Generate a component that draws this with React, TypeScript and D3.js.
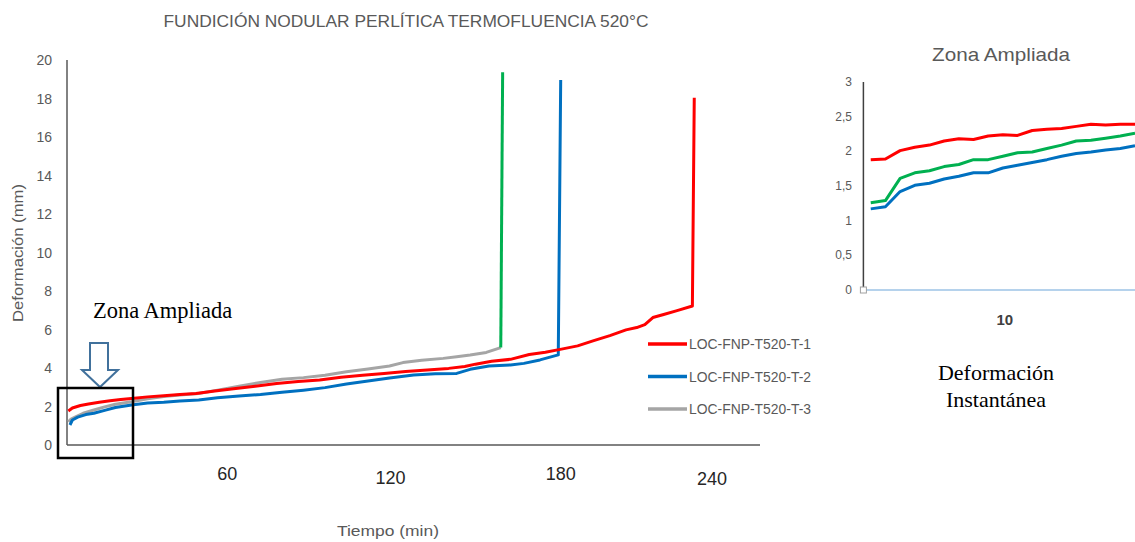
import React from "react";
import * as d3 from "d3";

// ---- Main chart data (time in min, deformation in mm) ----
const t1 = [0.5, 2, 5, 8, 12, 16, 20, 24, 30, 36, 42, 48, 55, 62, 70, 78, 86, 94, 102, 110, 118, 126, 134, 142, 148, 152, 158, 165, 172, 178, 184, 190, 196, 202, 208, 212, 215, 218, 222, 227, 232.7, 233.4];
const v1 = [1.77, 1.92, 2.05, 2.13, 2.22, 2.3, 2.36, 2.42, 2.5, 2.56, 2.62, 2.68, 2.8, 2.92, 3.05, 3.2, 3.3, 3.38, 3.52, 3.62, 3.72, 3.82, 3.9, 3.98, 4.08, 4.2, 4.35, 4.45, 4.7, 4.82, 4.98, 5.15, 5.42, 5.68, 5.98, 6.1, 6.25, 6.62, 6.78, 6.98, 7.22, 18.04];

const t2 = [1.1, 2, 4, 7, 10, 14, 18, 24, 30, 36, 42, 49, 56, 64, 72, 80, 88, 96, 104, 112, 120, 129, 137, 145, 150, 157, 165, 170, 176, 182.8, 183.7];
const v2 = [1.04, 1.3, 1.45, 1.58, 1.65, 1.8, 1.95, 2.08, 2.18, 2.22, 2.28, 2.34, 2.45, 2.55, 2.62, 2.74, 2.85, 2.98, 3.17, 3.32, 3.48, 3.64, 3.7, 3.72, 3.93, 4.1, 4.16, 4.24, 4.42, 4.68, 18.96];

const t3 = [0.5, 1.5, 3, 6, 10, 14, 18, 24, 30, 36, 42, 49, 56, 64, 72, 80, 88, 96, 104, 112, 120, 125, 132, 140, 145, 150, 156, 161.4];
const v3 = [1.21, 1.35, 1.45, 1.65, 1.82, 1.98, 2.12, 2.25, 2.4, 2.52, 2.6, 2.68, 2.85, 3.05, 3.25, 3.42, 3.5, 3.62, 3.81, 3.95, 4.1, 4.28, 4.4, 4.5, 4.59, 4.68, 4.81, 5.06];
const t3Rupture = [161.4, 162.1];
const v3Rupture = [5.06, 19.36];

const seriesNames = ["LOC-FNP-T520-T-1", "LOC-FNP-T520-T-2", "LOC-FNP-T520-T-3"];
const yTicks = [0, 2, 4, 6, 8, 10, 12, 14, 16, 18, 20];
const xTicks = [60, 120, 180, 240];

// ---- Inset (Zona Ampliada) data ----
const insetCats = [1, 2, 3, 4, 5, 6, 7, 8, 9, 10, 11, 12, 13, 14, 15, 16, 17, 18, 19];
const insetRed = [1.88, 1.89, 2.01, 2.06, 2.09, 2.15, 2.18, 2.17, 2.22, 2.24, 2.23, 2.3, 2.32, 2.33, 2.36, 2.39, 2.38, 2.39, 2.39];
const insetGreen = [1.26, 1.29, 1.61, 1.69, 1.72, 1.78, 1.81, 1.88, 1.88, 1.93, 1.98, 1.99, 2.04, 2.09, 2.15, 2.16, 2.19, 2.22, 2.26];
const insetBlue = [1.17, 1.2, 1.42, 1.51, 1.54, 1.6, 1.64, 1.69, 1.69, 1.76, 1.8, 1.84, 1.88, 1.93, 1.97, 1.99, 2.02, 2.04, 2.08];
const insetYTicks = [0, 0.5, 1, 1.5, 2, 2.5, 3];
const insetXTicks = [10];

const RED = "#FF0000";
const BLUE = "#0070C0";
const GRAY = "#A5A5A5";
const GREEN = "#00B050";
const SANS = "'Liberation Sans', Arial, sans-serif";
const SERIF = "'Liberation Serif', 'Times New Roman', serif";

export default function App() {
  // main scales
  const x = d3.scaleLinear().domain([0, 240]).range([67, 712]);
  const y = d3.scaleLinear().domain([0, 20]).range([445, 60]);
  const line = d3
    .line<[number, number]>()
    .x((d) => x(d[0]))
    .y((d) => y(d[1]));
  const zip = (a: number[], b: number[]) => a.map((v, i) => [v, b[i]] as [number, number]);

  // inset scales
  const xi = d3.scaleLinear().domain([0.5, 19]).range([863.4, 1135]);
  const yi = d3.scaleLinear().domain([0, 3]).range([290, 82]);
  const lineI = d3
    .line<number>()
    .x((_, i) => xi(insetCats[i]))
    .y((d) => yi(d));

  const fmt = (v: number) => String(v).replace(".", ",");

  return (
    <svg
      width={1135}
      height={542}
      style={{ position: "absolute", left: 0, top: 0, background: "#fff" }}
    >
      <rect x={0} y={0} width={1135} height={542} fill="#fff" />
      {/* Title */}
      <text x={406} y={27} textAnchor="middle" fontFamily={SANS} fontSize={16} fill="#595959" textLength={485} lengthAdjust="spacingAndGlyphs">
        FUNDICIÓN NODULAR PERLÍTICA TERMOFLUENCIA 520°C
      </text>

      {/* Axes */}
      <line x1={67} y1={60} x2={67} y2={445} stroke="#595959" strokeWidth={1.5} />
      <line x1={67} y1={445} x2={760} y2={445} stroke="#595959" strokeWidth={1.5} />
      {yTicks.map((t) => (
        <text key={t} x={52} y={y(t) + 5} textAnchor="end" fontFamily={SANS} fontSize={14} fill="#595959">
          {t}
        </text>
      ))}
      {xTicks.map((t, i) => (
        <text key={t} x={x(t) + [-1, 1, 10, 0][i]} y={[480, 484, 480, 485][i]} textAnchor="middle" fontFamily={SANS} fontSize={18} fill="#262626">
          {t}
        </text>
      ))}
      <text x={388} y={536} textAnchor="middle" fontFamily={SANS} fontSize={15} fill="#595959" textLength={102} lengthAdjust="spacingAndGlyphs">
        Tiempo (min)
      </text>
      <text transform="translate(23,253) rotate(-90)" textAnchor="middle" fontFamily={SANS} fontSize={15} fill="#595959" textLength={138} lengthAdjust="spacingAndGlyphs">
        Deformación (mm)
      </text>

      {/* Series */}
      <path d={line(zip(t3, v3)) || ""} fill="none" stroke={GRAY} strokeWidth={3} strokeLinejoin="round" />
      <path d={line(zip(t3Rupture, v3Rupture)) || ""} fill="none" stroke={GREEN} strokeWidth={3} />
      <path d={line(zip(t2, v2)) || ""} fill="none" stroke={BLUE} strokeWidth={3} strokeLinejoin="round" />
      <path d={line(zip(t1, v1)) || ""} fill="none" stroke={RED} strokeWidth={3} strokeLinejoin="round" />

      {/* Legend */}
      {[RED, BLUE, GRAY].map((c, i) => (
        <g key={i} transform={`translate(648,${344 + i * 32.5})`}>
          <line x1={0} x2={39} y1={0} y2={0} stroke={c} strokeWidth={3.5} />
          <text x={41} y={5} fontFamily={SANS} fontSize={14} fill="#595959" textLength={122} lengthAdjust="spacingAndGlyphs">
            {seriesNames[i]}
          </text>
        </g>
      ))}

      {/* Zona Ampliada annotation */}
      <text x={93} y={318} fontFamily={SERIF} fontSize={22.5} fill="#000">
        Zona Ampliada
      </text>
      <path
        d="M90,343 L108,343 L108,370 L118,370 L100,387 L82,370 L90,370 Z"
        fill="#fff"
        stroke="#41719C"
        strokeWidth={2}
      />
      <rect x={58} y={388} width={75} height={70} fill="none" stroke="#000" strokeWidth={2.5} />

      {/* Inset */}
      <text x={1001} y={61} textAnchor="middle" fontFamily={SANS} fontSize={19} fill="#595959" textLength={138} lengthAdjust="spacingAndGlyphs">
        Zona Ampliada
      </text>
      <line x1={xi(0.5)} y1={82} x2={xi(0.5)} y2={290} stroke="#404040" strokeWidth={1.5} />
      <line x1={xi(0.5)} y1={290} x2={1135} y2={290} stroke="#9DC3E6" strokeWidth={1.5} />
      <rect x={xi(0.5) - 3} y={287} width={6} height={6} fill="#fff" stroke="#A0A0A0" strokeWidth={1} />
      {insetYTicks.map((t) => (
        <text key={t} x={852} y={yi(t) + 4} textAnchor="end" fontFamily={SANS} fontSize={12} fill="#595959">
          {fmt(t)}
        </text>
      ))}
      {insetXTicks.map((t) => (
        <text key={t} x={xi(t) + 2} y={325} textAnchor="middle" fontFamily={SANS} fontSize={15} fontWeight="bold" fill="#404040">
          {t}
        </text>
      ))}
      <path d={lineI(insetRed) || ""} fill="none" stroke={RED} strokeWidth={3} strokeLinejoin="round" />
      <path d={lineI(insetGreen) || ""} fill="none" stroke={GREEN} strokeWidth={3} strokeLinejoin="round" />
      <path d={lineI(insetBlue) || ""} fill="none" stroke={BLUE} strokeWidth={3} strokeLinejoin="round" />

      <text x={996} y={380} textAnchor="middle" fontFamily={SERIF} fontSize={22} fill="#000">
        Deformación
      </text>
      <text x={996} y={407} textAnchor="middle" fontFamily={SERIF} fontSize={22} fill="#000">
        Instantánea
      </text>
    </svg>
  );
}
